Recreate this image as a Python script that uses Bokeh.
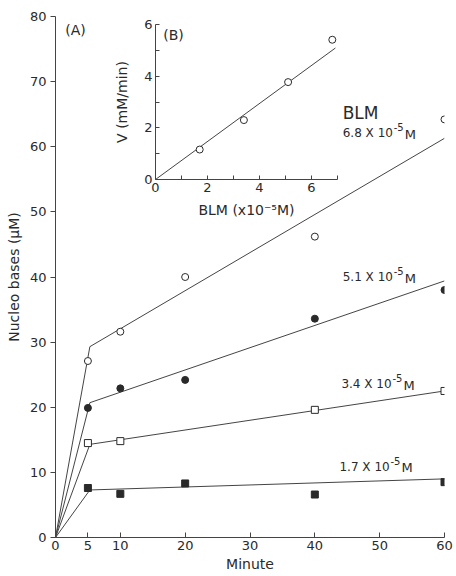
from bokeh.plotting import figure
from bokeh.models import FixedTicker, Label, Column, Range1d
from bokeh.embed import file_html
from bokeh.resources import INLINE

# ---------------- data ----------------
minutes_all = [5, 10, 20, 40, 60]
minutes_34 = [5, 10, 40, 60]
bases_17 = [7.6, 6.7, 8.3, 6.6, 8.5]
bases_34 = [14.5, 14.8, 19.6, 22.5]
bases_51 = [19.9, 22.9, 24.2, 33.6, 38.0]
bases_68 = [27.1, 31.6, 40.0, 46.2, 64.2]

fit_x = [0, 5.3, 60]
fit_17 = [0, 7.3, 9.0]
fit_34 = [0, 14.3, 22.5]
fit_51 = [0, 20.7, 39.4]
fit_68 = [0, 29.3, 61.3]

conc_labels = ["1.7 X 10", "3.4 X 10", "5.1 X 10", "6.8 X 10"]
unit_labels = ["M", "M", " M", "M"]
exponent = "-5"

x_ticks = [0, 5, 10, 20, 30, 40, 50, 60]
y_ticks = [0, 10, 20, 30, 40, 50, 60, 70, 80]

blm_conc = [1.7, 3.4, 5.1, 6.8]
velocity = [1.16, 2.30, 3.77, 5.41]
vfit_x = [0, 6.92]
vfit_y = [0, 5.09]
inset_x_ticks = [0, 2, 4, 6]
inset_x_minor = [1, 3, 5, 7]
inset_y_ticks = [0, 2, 4, 6]
inset_y_minor = [1, 3, 5]

FONT = "DejaVu Sans"
INK = "#2a2a2a"
LINE = "#444444"

# ---------------- main plot ----------------
p = figure(frame_width=389, frame_height=521, output_backend="svg", toolbar_location=None,
           x_range=Range1d(0, 60), y_range=Range1d(0, 80),
           min_border_left=55, min_border_right=12, min_border_top=16, min_border_bottom=39)
p.outline_line_color = None
p.xgrid.visible = False
p.ygrid.visible = False

for ax in (p.xaxis[0], p.yaxis[0]):
    ax.axis_line_color = LINE
    ax.major_tick_line_color = LINE
    ax.minor_tick_line_color = None
    ax.major_label_text_font = FONT
    ax.major_label_text_font_size = "13px"
    ax.major_label_text_color = INK
    ax.axis_label_text_font = FONT
    ax.axis_label_text_font_size = "14px"
    ax.axis_label_text_font_style = "normal"
    ax.axis_label_text_color = INK

p.xaxis.ticker = FixedTicker(ticks=x_ticks)
p.yaxis.ticker = FixedTicker(ticks=y_ticks)
p.xaxis.major_tick_in = 5
p.xaxis.major_tick_out = 0
p.yaxis.major_tick_in = 0
p.yaxis.major_tick_out = 5
p.xaxis.major_label_standoff = 3
p.yaxis.major_label_standoff = 4
p.xaxis.axis_label = "Minute"
p.yaxis.axis_label = "Nucleo bases (\u03bcM)"
p.xaxis.axis_label_standoff = 3
p.yaxis.axis_label_standoff = 5

for fy in (fit_17, fit_34, fit_51, fit_68):
    p.line(fit_x, fy, line_color=LINE, line_width=1)

ms = 7
p.scatter(minutes_all, bases_17, marker="square", size=ms, fill_color=INK, line_color=INK)
p.scatter(minutes_34, bases_34, marker="square", size=ms, fill_color="white", line_color=INK)
p.scatter(minutes_all, bases_51, marker="circle", size=ms, fill_color=INK, line_color=INK)
p.scatter(minutes_all, bases_68, marker="circle", size=ms, fill_color="white", line_color=INK)

p.add_layout(Label(x=1.5, y=78, text="(A)", text_font_size="14px", text_font=FONT,
                   text_color=INK, text_baseline="middle"))
p.add_layout(Label(x=44.3, y=65.2, text="BLM", text_font=FONT, text_font_size="17px",
                   text_color=INK, text_baseline="middle"))

label_pos = [(43.8, 10.9), (44.1, 23.5), (44.3, 40.0), (44.3, 62.1)]
for (lx, ly), base, unit in zip(label_pos, conc_labels, unit_labels):
    p.add_layout(Label(x=lx, y=ly, text=base, text_font=FONT, text_font_size="12px",
                       text_color=INK, text_baseline="middle"))
    p.add_layout(Label(x=lx, y=ly, x_offset=51, y_offset=6, text=exponent, text_font=FONT,
                       text_font_size="10px", text_color=INK, text_baseline="middle"))
    p.add_layout(Label(x=lx, y=ly, x_offset=62, y_offset=-1, text=unit, text_font=FONT,
                       text_font_size="13px", text_color=INK, text_baseline="middle"))

# ---------------- inset ----------------
q = figure(frame_width=182, frame_height=155, output_backend="svg", toolbar_location=None,
           x_range=Range1d(0, 7), y_range=Range1d(0, 6),
           min_border_left=54, min_border_right=10, min_border_top=14, min_border_bottom=45)
q.outline_line_color = None
q.background_fill_color = None
q.border_fill_color = None
q.xgrid.visible = False
q.ygrid.visible = False
for ax in (q.xaxis[0], q.yaxis[0]):
    ax.axis_line_color = LINE
    ax.major_tick_line_color = LINE
    ax.minor_tick_line_color = LINE
    ax.major_tick_in = 4
    ax.major_tick_out = 0
    ax.minor_tick_in = 4
    ax.minor_tick_out = 0
    ax.major_label_text_font = FONT
    ax.major_label_text_font_size = "13px"
    ax.major_label_text_color = INK
    ax.major_label_standoff = 3
    ax.axis_label_text_font = FONT
    ax.axis_label_text_font_size = "14px"
    ax.axis_label_text_font_style = "normal"
    ax.axis_label_text_color = INK
q.xaxis.ticker = FixedTicker(ticks=inset_x_ticks, minor_ticks=inset_x_minor)
q.yaxis.ticker = FixedTicker(ticks=inset_y_ticks, minor_ticks=inset_y_minor)
q.xaxis.axis_label = "BLM (x10\u207b\u2075M)"
q.yaxis.axis_label = "V (mM/min)"
q.xaxis.axis_label_standoff = 7
q.yaxis.axis_label_standoff = 11

q.line(vfit_x, vfit_y, line_color=LINE, line_width=1)
q.scatter(blm_conc, velocity, marker="circle", size=7, fill_color="white", line_color=INK)
q.add_layout(Label(x=0.3, y=5.6, text="(B)", text_font=FONT, text_font_size="14px",
                   text_color=INK, text_baseline="middle"))

q.margin = (-566, 0, 0, 100)
layout = Column(p, q, margin=0)

open("out.html", "w").write(file_html(layout, INLINE))
